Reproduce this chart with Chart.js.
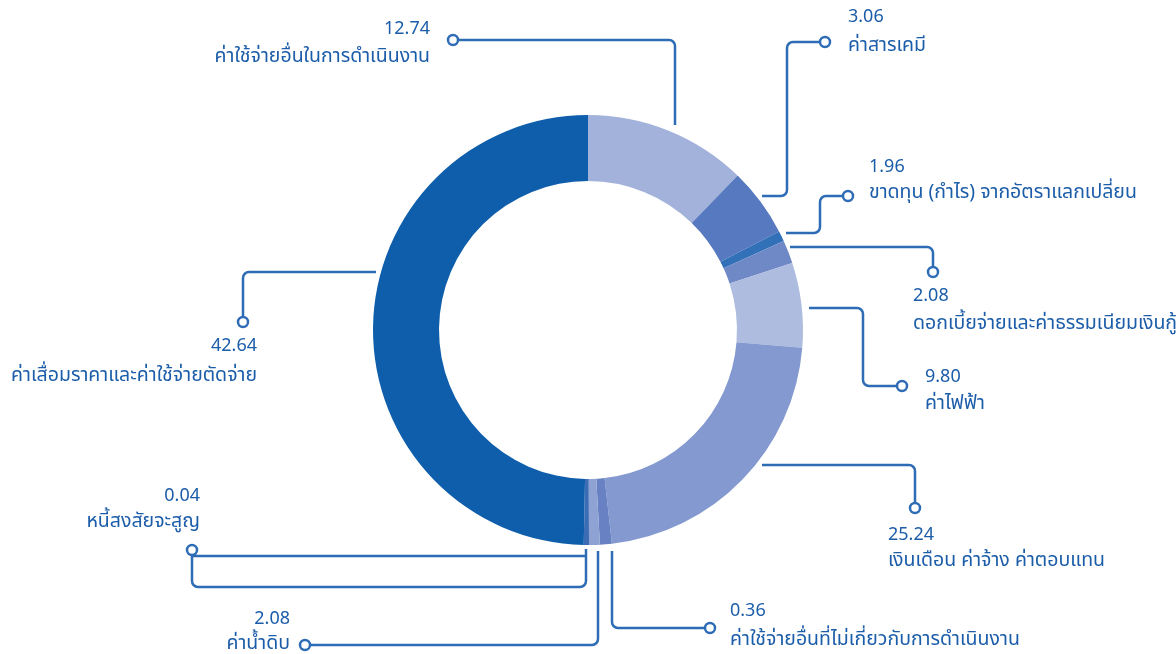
<!DOCTYPE html>
<html>
<head>
<meta charset="utf-8">
<script src="https://cdn.jsdelivr.net/npm/chart.js@4.4.1/dist/chart.umd.min.js"></script>
<style>
  html, body { margin: 0; padding: 0; background: #ffffff; }
  #wrap { position: relative; width: 1176px; height: 654px; }
</style>
</head>
<body>
<div id="wrap"><canvas id="c" width="1176" height="654"></canvas></div>
<script>
// ---- data ----
const categories = [
  'ค่าใช้จ่ายอื่นในการดำเนินงาน',
  'ค่าสารเคมี',
  'ขาดทุน (กำไร) จากอัตราแลกเปลี่ยน',
  'ดอกเบี้ยจ่ายและค่าธรรมเนียมเงินกู้',
  'ค่าไฟฟ้า',
  'เงินเดือน ค่าจ้าง ค่าตอบแทน',
  'ค่าใช้จ่ายอื่นที่ไม่เกี่ยวกับการดำเนินงาน',
  'ค่าน้ำดิบ',
  'หนี้สงสัยจะสูญ',
  'ค่าเสื่อมราคาและค่าใช้จ่ายตัดจ่าย'
];
// values printed in the callouts
const shownValues = ['12.74', '3.06', '1.96', '2.08', '9.80', '25.24', '0.36', '2.08', '0.04', '42.64'];
const sliceShares = [12.25, 5.17, 0.78, 1.75, 6.36, 21.92, 0.89, 0.81, 0.39, 49.69];

// ---- styles / layout ----
const sliceColors = ['#A3B2DA', '#5679BF', '#3270B7', '#6F88C6', '#AEBCE0', '#8399D0', '#6781C3', '#8EA2D4', '#3B6CB4', '#0F5EAC'];
const lineColor = '#2F6CB6';
const textColor = '#1C5DA9';
const FONT = '"Noto Sans Thai", "Noto Sans", "DejaVu Sans", sans-serif';

// leader paths (from ring to marker circle) and text placement
const callouts = [
  { path: [[675,125],[675,40],[453,40]], align: 'right', tx: 430, vy: 30, ny: 58 },
  { path: [[762,196],[787,196],[787,42],[825,42]], align: 'left', tx: 848, vy: 18, ny: 47 },
  { path: [[786,233],[820,233],[820,196],[848,196]], align: 'left', tx: 869, vy: 168, ny: 194 },
  { path: [[790,247],[933,247],[933,272]], align: 'left', tx: 913, vy: 297, ny: 325 },
  { path: [[809,308],[863,308],[863,386],[902,386]], align: 'left', tx: 925, vy: 378, ny: 405 },
  { path: [[762,465],[915,465],[915,508]], align: 'left', tx: 888, vy: 536, ny: 562 },
  { path: [[612,551],[612,628],[710,628]], align: 'left', tx: 730, vy: 612, ny: 641 },
  { path: [[598,551],[598,645],[305,645]], align: 'right', tx: 290, vy: 620, ny: 645 },
  { path: [[586,549],[586,587],[192,587],[192,550]], extra: [[192,556],[586,556]], align: 'right', tx: 200, vy: 497, ny: 523 },
  { path: [[376,272],[243,272],[243,322]], align: 'right', tx: 257, vy: 347, ny: 377 }
];

function roundedPath(ctx, pts, r) {
  ctx.moveTo(pts[0][0], pts[0][1]);
  for (let i = 1; i < pts.length - 1; i++) {
    ctx.arcTo(pts[i][0], pts[i][1], pts[i+1][0], pts[i+1][1], r);
  }
  const last = pts[pts.length - 1];
  ctx.lineTo(last[0], last[1]);
}

const calloutPlugin = {
  id: 'callouts',
  afterDatasetsDraw(chart) {
    const ctx = chart.ctx;
    ctx.save();
    ctx.strokeStyle = lineColor;
    ctx.lineWidth = 2.5;
    ctx.lineJoin = 'round';
    ctx.lineCap = 'butt';
    chart.getDatasetMeta(0).data.forEach((arc, i) => {
      const c = callouts[i];
      ctx.beginPath();
      roundedPath(ctx, c.path, 6);
      ctx.stroke();
      if (c.extra) {
        ctx.beginPath();
        roundedPath(ctx, c.extra, 6);
        ctx.stroke();
      }
      const end = c.path[c.path.length - 1];
      ctx.beginPath();
      ctx.arc(end[0], end[1], 5, 0, Math.PI * 2);
      ctx.fillStyle = '#ffffff';
      ctx.fill();
      ctx.stroke();
      ctx.fillStyle = textColor;
      ctx.textAlign = c.align;
      ctx.textBaseline = 'middle';
      ctx.font = '18px ' + FONT;
      ctx.fillText(shownValues[i], c.tx, c.vy);
      ctx.font = '19.5px ' + FONT;
      ctx.fillText(categories[i], c.tx, c.ny);
    });
    ctx.restore();
  }
};

new Chart(document.getElementById('c'), {
  type: 'doughnut',
  data: {
    labels: categories,
    datasets: [{
      data: sliceShares,
      backgroundColor: sliceColors,
      borderWidth: 0,
      hoverOffset: 0
    }]
  },
  options: {
    responsive: false,
    animation: false,
    devicePixelRatio: 1,
    cutout: '69.3%',
    rotation: 0,
    layout: { padding: { top: 115, bottom: 109, left: 373, right: 373 } },
    plugins: { legend: { display: false }, tooltip: { enabled: false } },
    events: []
  },
  plugins: [calloutPlugin]
});
</script>
</body>
</html>
